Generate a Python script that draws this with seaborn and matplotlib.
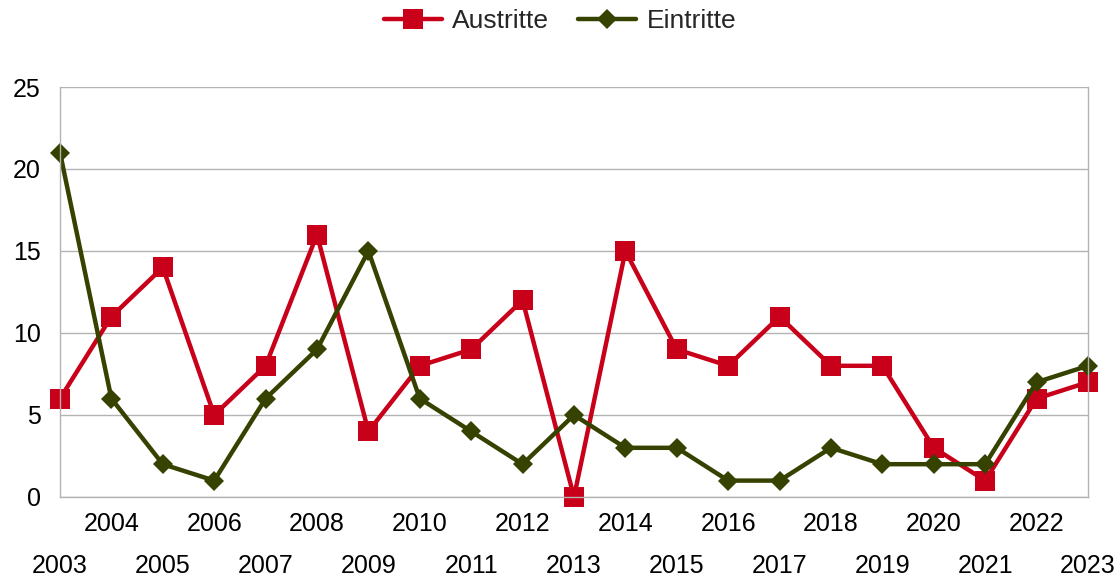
import matplotlib
matplotlib.use("Agg")
import matplotlib.pyplot as plt
import seaborn as sns
import pandas as pd
from matplotlib.lines import Line2D

years = list(range(2003, 2024))
austritte = [6, 11, 14, 5, 8, 16, 4, 8, 9, 12, 0, 15, 9, 8, 11, 8, 8, 3, 1, 6, 7]
eintritte = [21, 6, 2, 1, 6, 9, 15, 6, 4, 2, 5, 3, 3, 1, 1, 3, 2, 2, 2, 7, 8]
series_names = ["Austritte", "Eintritte"]
colors = {"Austritte": "#c9001a", "Eintritte": "#354200"}

sns.set_style("white")
plt.rcParams["font.family"] = ["Liberation Sans", "DejaVu Sans"]

idx = list(range(len(years)))
df = pd.DataFrame({
    "pos": idx * 2,
    "value": austritte + eintritte,
    "series": ["Austritte"] * len(years) + ["Eintritte"] * len(years),
})

fig = plt.figure(figsize=(11.2, 5.8), dpi=100)
ax = fig.add_axes([60 / 1120, 83 / 580, 1028 / 1120, 410 / 580])

sns.lineplot(data=df, x="pos", y="value", hue="series", style="series",
             markers={"Austritte": "s", "Eintritte": "D"}, dashes=False,
             palette=colors, linewidth=3.2, ax=ax, legend=False)
for ln, name in zip(ax.get_lines(), series_names):
    ln.set_markersize(15 if name == "Austritte" else 10.5)
    ln.set_markeredgewidth(0)
    ln.set_clip_on(False)

ax.set_xlim(0, len(years) - 1)
ax.set_ylim(0, 25)
ax.set_yticks([0, 5, 10, 15, 20, 25])
ax.set_xticks(idx)
ax.set_xticklabels([("\n" + str(y)) if i % 2 == 0 else str(y) for i, y in enumerate(years)],
                   linespacing=1.95)
ax.set_xlabel("")
ax.set_ylabel("")
ax.yaxis.grid(True, color="#b3b3b3", linewidth=1)
ax.xaxis.grid(False)
for s in ["left", "right", "bottom", "top"]:
    ax.spines[s].set_color("#b3b3b3")
    ax.spines[s].set_linewidth(1)
ax.spines["top"].set_visible(False)
ax.tick_params(axis="both", which="both", length=10, color="#b3b3b3", width=1,
               labelsize=18, labelcolor="black", direction="out")
ax.tick_params(axis="x", pad=1)
ax.tick_params(axis="y", pad=4)
ax.set_axisbelow(True)

handles = [
    Line2D([], [], color=colors["Austritte"], marker="s", markersize=15, linewidth=3.2, markeredgewidth=0),
    Line2D([], [], color=colors["Eintritte"], marker="D", markersize=10.5, linewidth=3.2, markeredgewidth=0),
]
fig.legend(handles, series_names, loc="upper center", bbox_to_anchor=(0.5, 1.025), ncol=2,
           frameon=False, fontsize=19, handlelength=2.2, columnspacing=1.1, handletextpad=0.4)

fig.savefig("out.png", dpi=100)
